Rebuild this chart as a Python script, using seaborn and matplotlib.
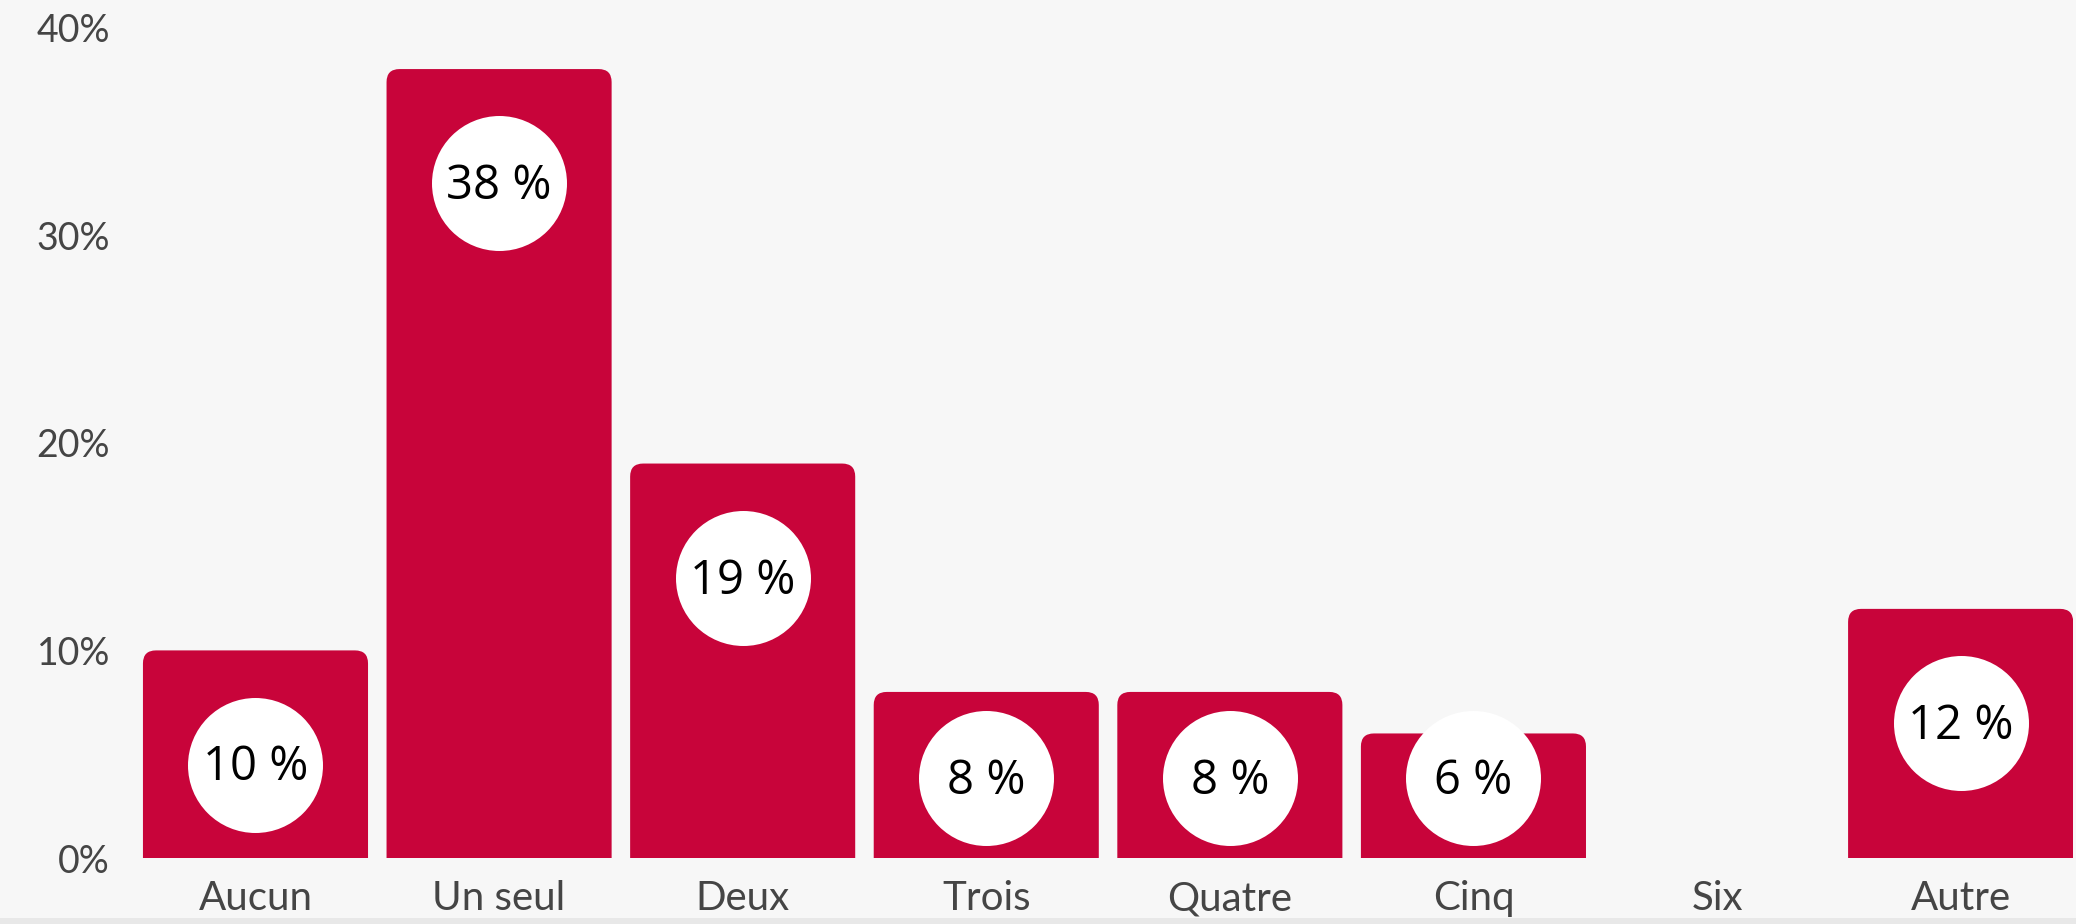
import matplotlib
matplotlib.use("Agg")
import matplotlib.pyplot as plt
import seaborn as sns
import pandas as pd
from matplotlib.patches import FancyBboxPatch, Rectangle

# data
categories = ["Aucun", "Un seul", "Deux", "Trois", "Quatre", "Cinq", "Six", "Autre"]
values = [10, 38, 19, 8, 8, 6, 0, 12]
y_ticks = [0, 10, 20, 30, 40]
y_tick_labels = ["0%", "10%", "20%", "30%", "40%"]

bar_color = "#c8043a"
bg = "#f7f7f7"

sns.set_theme(style="white")
plt.rcParams["font.family"] = ["Lato", "DejaVu Sans"]

W, H = 2076, 924
fig = plt.figure(figsize=(W / 100, H / 100), dpi=100, facecolor=bg)
ax = fig.add_axes([0.0644, 0.0714, 0.934, 0.8988])
ax.set_facecolor(bg)

df = pd.DataFrame({"cat": categories, "val": values})
sns.barplot(data=df, x="cat", y="val", color=bar_color, width=0.924,
            saturation=1, ax=ax)

ax.set_xlim(-0.5, 7.46)
ax.set_ylim(0, 40)

# swap the plain bars for bars with rounded top corners
px_x = 0.934 * W / 7.96
px_y = 0.8988 * H / 40
aspect = px_x / px_y
r = 13 / px_x
for p in list(ax.patches):
    h = p.get_height()
    p.set_visible(False)
    if h <= 0:
        continue
    ax.add_patch(FancyBboxPatch((p.get_x(), -2), p.get_width(), h + 2,
                                boxstyle=f"round,pad=0,rounding_size={r}",
                                mutation_aspect=aspect, facecolor=bar_color,
                                edgecolor="none", zorder=2))

# white value bubbles
xs, ys, labels = [], [], []
for i, v in enumerate(values):
    if v <= 0:
        continue
    xs.append(i)
    ys.append(max(v - 5.5, 3.85))
    labels.append(f"{v} %")
ax.scatter(xs, ys, s=9448, color="white", linewidths=0, zorder=3)
for x, y, t in zip(xs, ys, labels):
    ax.text(x, y - 0.15, t, ha="center", va="center", fontsize=34,
            color="black", family=["Open Sans", "DejaVu Sans"], zorder=4)

ax.set_yticks(y_ticks, y_tick_labels)
ax.set_xlabel("")
ax.set_ylabel("")
ax.tick_params(axis="both", length=0, labelcolor="#454545")
ax.tick_params(axis="y", pad=17, labelsize=27)
ax.tick_params(axis="x", pad=16, labelsize=29)
sns.despine(ax=ax, left=True, bottom=True)
ax.grid(False)

fig.patches.append(Rectangle((0, 0), 1, 6 / H, transform=fig.transFigure,
                             facecolor="#e8e8e8", edgecolor="none"))

fig.savefig("out.png", dpi=100, facecolor=bg)
